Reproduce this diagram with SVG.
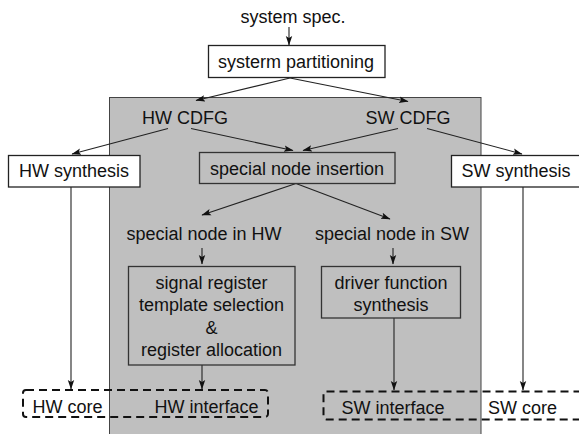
<svg xmlns="http://www.w3.org/2000/svg" width="579" height="434" viewBox="0 0 579 434">
  <style>
    text { font-family: "Liberation Sans", Arial, sans-serif; font-size: 18px; fill: #111; text-anchor: middle; }
    .box { fill: #fff; stroke: #222; stroke-width: 1.3; }
    .inbox { fill: none; stroke: #333; stroke-width: 1.3; }
    .edge { fill: none; stroke: #222; stroke-width: 1.1; marker-end: url(#arrow); }
    .dash { fill: none; stroke: #111; stroke-width: 2; stroke-dasharray: 8 5; }
  </style>
  <defs>
    <marker id="arrow" markerUnits="userSpaceOnUse" markerWidth="10" markerHeight="8" viewBox="0 0 10 8" refX="9" refY="4" orient="auto">
      <path d="M0,0.8 L9.5,4 L0,7.2 L2,4 z" fill="#111"/>
    </marker>
  </defs>

  <!-- white page -->
  <rect x="0" y="0" width="579" height="434" fill="#fff"/>

  <!-- shaded interface-generation region -->
  <rect id="region" x="109.5" y="97.5" width="371.5" height="345" fill="#bfbfbf" stroke="#444" stroke-width="1"/>

  <g id="connectors">
    <line class="edge" x1="289" y1="27" x2="289" y2="45"/>
    <line class="edge" x1="290" y1="78" x2="196" y2="100.5"/>
    <line class="edge" x1="290" y1="78" x2="408" y2="101.5"/>
    <line class="edge" x1="168" y1="128.5" x2="72" y2="154"/>
    <line class="edge" x1="191" y1="128.5" x2="293" y2="150.5"/>
    <line class="edge" x1="398" y1="128.5" x2="303" y2="150.5"/>
    <line class="edge" x1="427" y1="128.5" x2="522" y2="154"/>
    <line class="edge" x1="296" y1="183.5" x2="202" y2="215"/>
    <line class="edge" x1="296" y1="183.5" x2="390" y2="219"/>
    <line class="edge" x1="202" y1="248" x2="202" y2="264"/>
    <line class="edge" x1="393" y1="248" x2="393" y2="264"/>
    <line class="edge" x1="71" y1="187" x2="71" y2="389"/>
    <line class="edge" x1="202" y1="365" x2="202" y2="389"/>
    <line class="edge" x1="394" y1="318" x2="394" y2="390"/>
    <line class="edge" x1="523" y1="187" x2="523" y2="390"/>
  </g>

  <g id="system-spec">
    <text x="293" y="23">system spec.</text>
  </g>

  <g id="system-partitioning">
    <rect class="box" x="208.5" y="45.5" width="176.5" height="32"/>
    <text x="296" y="68">systerm partitioning</text>
  </g>

  <g id="hw-cdfg">
    <text x="185" y="124">HW CDFG</text>
  </g>

  <g id="sw-cdfg">
    <text x="408" y="124">SW CDFG</text>
  </g>

  <g id="hw-synthesis">
    <rect class="box" x="8.5" y="155.5" width="131.5" height="31.5"/>
    <text x="74" y="177">HW synthesis</text>
  </g>

  <g id="sw-synthesis">
    <rect class="box" x="451.5" y="155.5" width="135" height="31.5"/>
    <text x="516" y="177">SW synthesis</text>
  </g>

  <g id="special-node-insertion">
    <rect class="inbox" x="199.5" y="152.5" width="195.5" height="31"/>
    <text x="297" y="175">special node insertion</text>
  </g>

  <g id="special-node-hw">
    <text x="204" y="240">special node in HW</text>
  </g>

  <g id="special-node-sw">
    <text x="392" y="240">special node in SW</text>
  </g>

  <g id="register-template">
    <rect class="inbox" x="128.5" y="266.5" width="166.5" height="98.5"/>
    <text x="211.5" y="289">signal register</text>
    <text x="211.5" y="311">template selection</text>
    <text x="211.5" y="334">&amp;</text>
    <text x="211.5" y="356">register allocation</text>
  </g>

  <g id="driver-function">
    <rect class="inbox" x="321.5" y="266.5" width="139" height="51.5"/>
    <text x="391" y="289">driver function</text>
    <text x="391" y="311">synthesis</text>
  </g>

  <g id="hw-side">
    <rect class="dash" x="23" y="390" width="245" height="27" rx="3"/>
    <text x="67.5" y="413">HW core</text>
    <text x="206.5" y="413">HW interface</text>
  </g>

  <g id="sw-side">
    <rect class="dash" x="323.5" y="391.5" width="280" height="28" rx="3"/>
    <text x="393" y="414">SW interface</text>
    <text x="522.5" y="414">SW core</text>
  </g>
</svg>
